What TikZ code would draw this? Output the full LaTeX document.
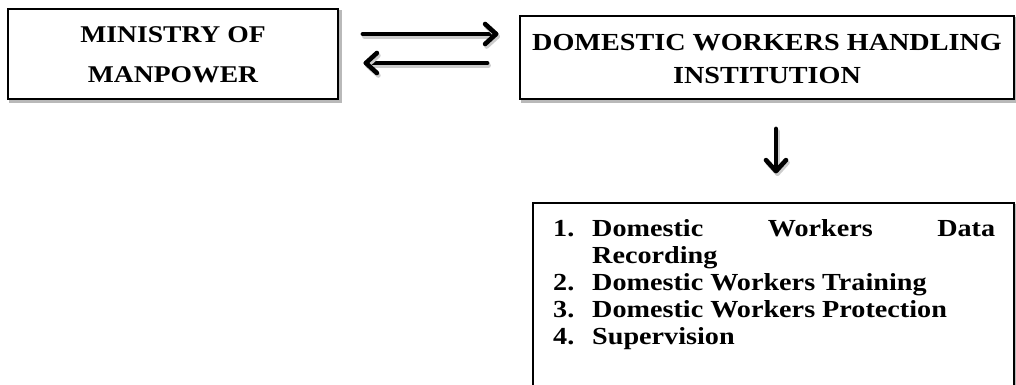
\documentclass[tikz,border=0pt]{standalone}
\usepackage{fontspec}
\setmainfont{Liberation Serif}[FakeStretch=1.15]
\usetikzlibrary{calc}
\tikzset{
  box/.style={draw=black, line width=1.8pt, fill=white, inner sep=0pt,
    preaction={draw=gray!55, line width=2.5pt, transform canvas={shift={(2.5pt,-2.5pt)}}}},
  boxtext/.style={font=\bfseries\fontsize{24.5}{33}\selectfont, align=center},
  conn/.style={line width=4.6pt, line cap=round, line join=round,
    preaction={draw=gray!40, line width=4.6pt, line cap=round, line join=round, transform canvas={shift={(1.5pt,-2.5pt)}}}},
  item/.style={font=\bfseries\fontsize{24.5}{26}\selectfont, inner sep=0pt, anchor=base west},
}
\begin{document}
\begin{tikzpicture}[x=1pt,y=-1pt]
\useasboundingbox (0,0) rectangle (1016,385);
\clip (0,0) rectangle (1016,385);
\node[box, minimum width=330pt, minimum height=90pt] (m) at (173,54) {};
\node[boxtext, font=\bfseries\fontsize{24}{40}\selectfont] (mt) at (173,55) {MINISTRY OF\\MANPOWER};
\node[box, minimum width=494pt, minimum height=83pt] (d) at (767,57.5) {};
\node[boxtext] (dt) at (767,59) {DOMESTIC WORKERS HANDLING\\INSTITUTION};
\node[box, minimum width=481pt, minimum height=200pt] (l) at (773.5,303) {};
\coordinate (a1s) at ($(m.east |- 0,34)+(24,0)$);
\coordinate (a1e) at ($(d.west |- 0,34)+(-23,0)$);
\coordinate (a2s) at ($(d.west |- 0,63)+(-32,0)$);
\coordinate (a2e) at ($(m.east |- 0,63)+(27,0)$);
\coordinate (a3s) at ($(d.south -| 776,0)+(0,29)$);
\coordinate (a3e) at ($(l.north -| 776,0)+(0,-31)$);
\draw[conn] (a1s) -- (a1e);
\draw[conn] ($(a1e)+(-11,-10)$) -- (a1e) -- ($(a1e)+(-11,10)$);
\draw[conn] (a2s) -- (a2e);
\draw[conn] ($(a2e)+(11,-10)$) -- (a2e) -- ($(a2e)+(11,10)$);
\draw[conn] (a3s) -- (a3e);
\draw[conn] ($(a3e)+(-10,-11)$) -- (a3e) -- ($(a3e)+(10,-11)$);
\node[item] (n1) at (553,236) {1.};
\node[item] (t1) at (592,236) {\hbox to 403pt{Domestic\hfill Workers\hfill Data}};
\node[item] (t1b) at (592,263) {Recording};
\node[item] (n2) at (553,290) {2.};
\node[item] (t2) at (592,290) {Domestic Workers Training};
\node[item] (n3) at (553,317) {3.};
\node[item] (t3) at (592,317) {Domestic Workers Protection};
\node[item] (n4) at (553,344) {4.};
\node[item] (t4) at (592,344) {Supervision};
\end{tikzpicture}
\end{document}
